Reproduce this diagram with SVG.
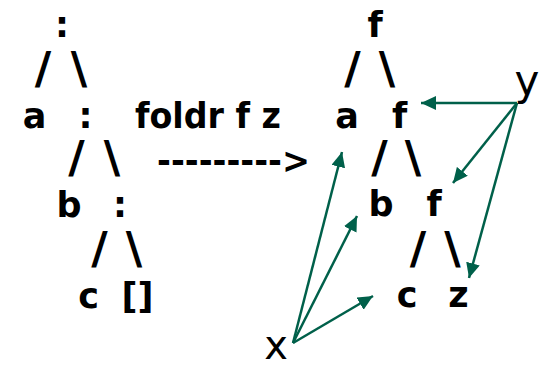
<svg xmlns="http://www.w3.org/2000/svg" width="540" height="369" viewBox="0 0 540 369">
<style>
.t{font-family:"DejaVu Sans",Verdana,sans-serif;font-weight:bold;font-size:35px;fill:#000;text-anchor:middle}
.s{font-family:"DejaVu Sans",Verdana,sans-serif;font-weight:bold;font-size:45px;fill:#000;text-anchor:middle}
.l{font-family:"DejaVu Sans",Verdana,sans-serif;font-size:42px;fill:#000;text-anchor:middle}
.c{stroke:#00604a;stroke-width:2.5;fill:none}
</style>
<defs>
<marker id="ah" markerUnits="userSpaceOnUse" markerWidth="17" markerHeight="15" refX="15" refY="7" orient="auto">
<path d="M0,0 L15,7 L0,14 Z" fill="#00604a"/>
</marker>
</defs>
<rect width="540" height="369" fill="#fff"/>
<g id="left-tree">
<text class="t" x="62" y="37">:</text>
<text class="s" x="43" y="84">/</text><text class="s" x="79" y="84">\</text>
<text class="t" x="34.5" y="128">a</text><text class="t" x="85.5" y="128">:</text>
<text class="s" x="76.5" y="173">/</text><text class="s" x="112" y="173">\</text>
<text class="t" x="69" y="217">b</text><text class="t" x="120" y="217">:</text>
<text class="s" x="99.5" y="264">/</text><text class="s" x="134" y="264">\</text>
<text class="t" x="88.5" y="308">c</text><text class="t" x="137.5" y="308">[]</text>
</g>
<g id="transform">
<text class="t" x="135" y="128" style="text-anchor:start" textLength="146" lengthAdjust="spacingAndGlyphs">foldr f z</text>
<text class="t" x="157" y="173" style="text-anchor:start" textLength="153" lengthAdjust="spacingAndGlyphs">---------&gt;</text>
</g>
<g id="right-tree">
<text class="t" x="375" y="37">f</text>
<text class="s" x="352.5" y="84">/</text><text class="s" x="387" y="84">\</text>
<text class="t" x="347" y="128">a</text><text class="t" x="399.5" y="128">f</text>
<text class="s" x="379.5" y="173">/</text><text class="s" x="413" y="173">\</text>
<text class="t" x="381" y="216">b</text><text class="t" x="434" y="216">f</text>
<text class="s" x="418" y="264">/</text><text class="s" x="452.5" y="264">\</text>
<text class="t" x="407" y="307">c</text><text class="t" x="458.5" y="307">z</text>
</g>
<g id="label-x"><text class="l" x="276" y="359" style="font-size:40px">x</text></g>
<g id="label-y"><text class="l" x="527" y="95">y</text></g>
<g id="connectors">
<line class="c" x1="517" y1="103" x2="421" y2="103" marker-end="url(#ah)"/>
<line class="c" x1="517" y1="103" x2="453" y2="183" marker-end="url(#ah)"/>
<line class="c" x1="517" y1="103" x2="469" y2="278" marker-end="url(#ah)"/>
<line class="c" x1="293" y1="343" x2="342" y2="152" marker-end="url(#ah)"/>
<line class="c" x1="293" y1="343" x2="357" y2="216" marker-end="url(#ah)"/>
<line class="c" x1="293" y1="343" x2="373" y2="296" marker-end="url(#ah)"/>
</g>
</svg>
